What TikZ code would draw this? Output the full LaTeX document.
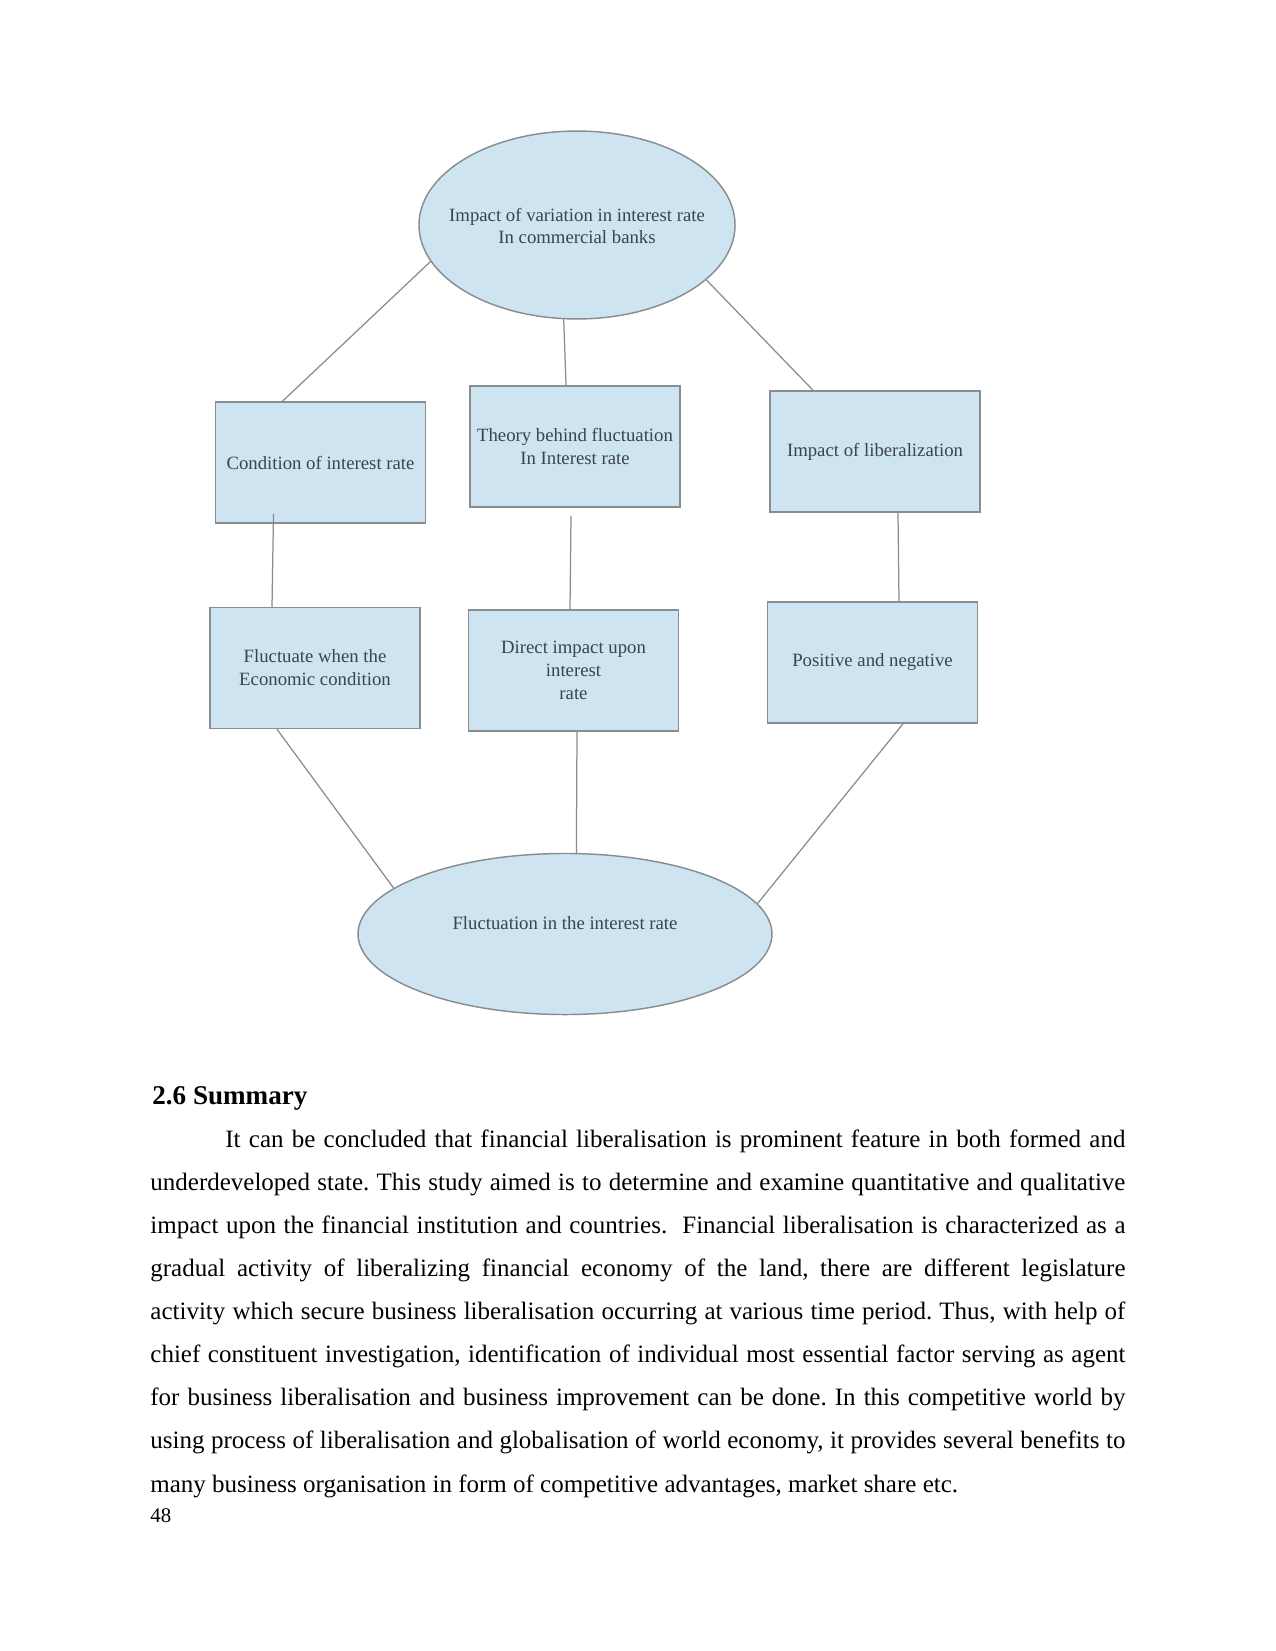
\documentclass[tikz,border=0pt]{standalone}
\usepackage{fontspec}
\setmainfont{Liberation Serif}
\usepackage{xcolor}
\usetikzlibrary{calc,positioning,shapes.geometric}
\definecolor{flowBlue}{RGB}{207,228,241}
\definecolor{flowEdge}{RGB}{136,141,146}
\definecolor{flowLine}{RGB}{140,140,140}
\definecolor{flowText}{RGB}{58,68,78}

\tikzset{
  topicbox/.style={draw=flowEdge, fill=flowBlue, line width=0.8pt, minimum width=100.8pt, minimum height=58pt, inner sep=2pt, align=center, text=flowText, font=\fontsize{9}{11}\selectfont},
  topicoval/.style={ellipse, draw=flowEdge, fill=flowBlue, line width=0.7pt, inner sep=0pt},
  ovaltext/.style={align=center, text=flowText, font=\fontsize{9}{11}\selectfont},
  link/.style={draw=flowLine, line width=0.6pt}
}

\begin{document}
\begin{tikzpicture}[x=0.48pt, y=-0.48pt]
\useasboundingbox (0,0) rectangle (1275,1651);

% ovals
\node[topicoval, minimum width=151.7pt, minimum height=90.2pt] (top) at (577,225) {};
\node[ovaltext] (toplabel) at (577,226) {Impact of variation in interest rate\\In commercial banks};
\node[topicoval, minimum width=198.7pt, minimum height=77.3pt] (bot) at (565,934) {};
\node[ovaltext] (botlabel) at (565,923) {Fluctuation in the interest rate};

% boxes
\node[topicbox] (cond) at (320.5,462.5) {Condition of interest rate};
\node[topicbox] (theory) at (575,446.5) {Theory behind fluctuation\\In Interest rate};
\node[topicbox] (liber) at (875,451.5) {Impact of liberalization};
\node[topicbox] (econ) at (315,668) {Fluctuate when the\\Economic condition};
\node[topicbox] (direct) at (573.5,670.5) {Direct impact upon\\interest\\rate};
\node[topicbox] (posneg) at (872.5,662.5) {Positive and negative};

% connectors
\draw[link] (top.194.7) -- ($(cond.north)+(-38,0)$);
\draw[link] (top.262.7) -- ($(theory.north)+(-9,0)$);
\draw[link] (top.337.8) -- ($(liber.north)+(-62,0)$);
\draw[link] ($(cond.south)+(-47,-10)$) -- ($(econ.north)+(-43,0)$);
\draw[link] ($(theory.south)+(-4,8)$) -- ($(direct.north)+(-3.5,0)$);
\draw[link] ($(liber.south)+(23,0)$) -- ($(posneg.north)+(26.5,0)$);
\draw[link] ($(econ.south)+(-38,0)$) -- (bot.165);
\draw[link] ($(direct.south)+(3.5,0)$) -- (bot.82);
\draw[link] ($(posneg.south)+(30.5,0)$) -- (bot.9.2);

% text below
\node[anchor=base west, inner sep=0pt, font=\bfseries\fontsize{13}{15}\selectfont] (heading) at (152,1104) {2.6 Summary};
\node[anchor=base west, inner sep=0pt, text width=468pt, align=justify, font=\fontsize{12}{20.7}\selectfont] (summary) at (150,1147)
{\tolerance=9999\hyphenpenalty=10000\frenchspacing
\hspace*{36pt}It can be concluded that financial liberalisation is prominent feature in both formed and\linebreak
underdeveloped state. This study aimed is to determine and examine quantitative and qualitative\linebreak
impact upon the financial institution and countries.\ \ Financial liberalisation is characterized as a\linebreak
gradual activity of liberalizing financial economy of the land, there are different legislature\linebreak
activity which secure business liberalisation occurring at various time period. Thus, with help of\linebreak
chief constituent investigation, identification of individual most essential factor serving as agent\linebreak
for business liberalisation and business improvement can be done. In this competitive world by\linebreak
using process of liberalisation and globalisation of world economy, it provides several benefits to\linebreak
many business organisation in form of competitive advantages, market share etc.};
\node[anchor=base west, inner sep=0pt, font=\fontsize{10}{12}\selectfont] (pagenum) at (150,1522) {48};
\end{tikzpicture}
\end{document}
